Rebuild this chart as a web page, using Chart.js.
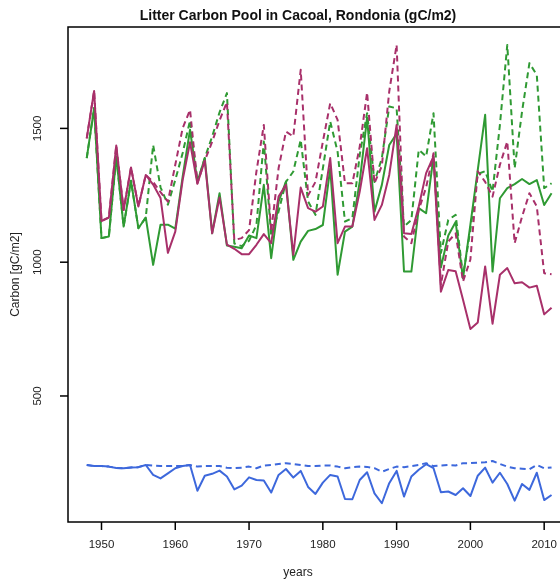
<!DOCTYPE html>
<html>
<head>
<meta charset="utf-8">
<script src="https://cdn.jsdelivr.net/npm/chart.js@4.4.1/dist/chart.umd.min.js"></script>
<style>
  html, body { margin: 0; padding: 0; background: #fff; overflow: hidden; }
  #wrap { width: 560px; height: 580px; overflow: hidden; }
</style>
</head>
<body>
<div id="wrap"><canvas id="litter" width="590" height="580"></canvas></div>
<script>
// years of the simulation
const years = [
  1948, 1949, 1950, 1951, 1952, 1953, 1954, 1955, 1956, 1957, 1958, 1959, 1960, 1961, 1962, 1963,
  1964, 1965, 1966, 1967, 1968, 1969, 1970, 1971, 1972, 1973, 1974, 1975, 1976, 1977, 1978, 1979,
  1980, 1981, 1982, 1983, 1984, 1985, 1986, 1987, 1988, 1989, 1990, 1991, 1992, 1993, 1994, 1995,
  1996, 1997, 1998, 1999, 2000, 2001, 2002, 2003, 2004, 2005, 2006, 2007, 2008, 2009, 2010, 2011
];

// green runs (solid / dashed)
const greenSolid = [
  1389, 1576, 1090, 1096, 1395, 1133, 1304, 1127, 1167, 990, 1140, 1140, 1125, 1320, 1495, 1300,
  1389, 1108, 1258, 1062, 1058, 1052, 1100, 1090, 1289, 1015, 1226, 1301, 1009, 1077, 1117, 1124,
  1139, 1351, 953, 1114, 1133, 1301, 1540, 1189, 1289, 1438, 1480, 965, 965, 1202, 1183, 1395,
  980, 1100, 1150, 940, 1140, 1345, 1551, 965, 1239, 1277, 1292, 1311, 1292, 1307, 1214, 1258
];
const greenDashed = [
  1389, 1576, 1090, 1096, 1395, 1133, 1304, 1127, 1167, 1438, 1280, 1215, 1307, 1408, 1530, 1300,
  1389, 1470, 1560, 1632, 1070, 1060, 1080, 1139, 1451, 1100, 1189, 1300, 1339, 1457, 1227, 1177,
  1350, 1526, 1413, 1152, 1165, 1401, 1557, 1300, 1389, 1582, 1575, 1133, 1158, 1420, 1395, 1557,
  1034, 1158, 1177, 950, 1120, 1330, 1340, 1264, 1513, 1812, 1351, 1563, 1744, 1700, 1277, 1295
];

// purple runs (solid / dashed)
const purpleSolid = [
  1463, 1640, 1154, 1167, 1436, 1195, 1354, 1208, 1326, 1290, 1240, 1035, 1114, 1307, 1448, 1293,
  1379, 1108, 1242, 1066, 1050, 1030, 1030, 1065, 1105, 1071, 1245, 1289, 1027, 1279, 1202, 1189,
  1208, 1389, 1071, 1133, 1133, 1264, 1426, 1158, 1214, 1326, 1513, 1108, 1105, 1208, 1333, 1395,
  890, 971, 966, 860, 750, 775, 984, 770, 953, 978, 921, 925, 905, 912, 805, 830
];
const purpleDashed = [
  1463, 1640, 1154, 1167, 1436, 1195, 1354, 1208, 1326, 1300, 1262, 1226, 1364, 1501, 1569, 1295,
  1380, 1450, 1530, 1598, 1083, 1090, 1120, 1339, 1513, 1114, 1351, 1488, 1470, 1719, 1250, 1300,
  1450, 1594, 1532, 1295, 1295, 1432, 1634, 1295, 1360, 1638, 1812, 1096, 1071, 1195, 1280, 1407,
  915, 1077, 1108, 928, 1010, 1340, 1300, 1245, 1364, 1451, 1071, 1170, 1258, 1208, 959, 955
];

// blue runs (solid / dashed)
const blueSolid = [
  242, 238, 238, 236, 231, 230, 233, 234, 242, 205, 192, 211, 230, 238, 242, 146,
  202, 209, 221, 199, 151, 165, 196, 186, 184, 139, 205, 227, 195, 220, 160, 134,
  176, 205, 199, 115, 114, 186, 215, 136, 99, 174, 220, 124, 199, 224, 245, 230,
  140, 143, 130, 155, 126, 202, 232, 176, 213, 171, 109, 171, 149, 213, 111, 130
];
const blueDashed = [
  242, 238, 238, 236, 231, 230, 233, 234, 242, 240, 238, 238, 238, 238, 242, 236,
  238, 238, 238, 232, 230, 232, 236, 230, 240, 242, 246, 249, 246, 242, 238, 238,
  240, 240, 236, 230, 234, 236, 235, 230, 217, 227, 236, 234, 238, 242, 249, 238,
  240, 242, 240, 249, 249, 251, 252, 257, 246, 236, 230, 228, 226, 242, 230, 233
];

// axis ticks
const xTicks = [1950, 1960, 1970, 1980, 1990, 2000, 2010];
const yTicks = [500, 1000, 1500];

const GREEN = '#2f9a33';
const PURPLE = '#a8306a';
const BLUE = '#3d68dc';
const FONT = '"Liberation Sans", Arial, Helvetica, sans-serif';

function series(vals) {
  return vals.map((v, i) => ({ x: years[i], y: v }));
}

function line(vals, color, dashed) {
  return {
    data: series(vals),
    borderColor: color,
    borderWidth: 2,
    borderDash: dashed ? [6, 4] : [],
    borderJoinStyle: 'round',
    pointRadius: 0,
    tension: 0,
    fill: false
  };
}

// box, tick marks and labels drawn in the old R style
const rAxes = {
  id: 'rAxes',
  afterDraw(chart) {
    const { ctx, chartArea: a, scales: { x, y } } = chart;
    ctx.save();
    ctx.strokeStyle = '#000';
    ctx.lineWidth = 1.5;
    ctx.strokeRect(a.left, a.top, a.right - a.left, a.bottom - a.top);

    ctx.fillStyle = '#222';
    ctx.font = '11.5px ' + FONT;
    ctx.textAlign = 'center';
    ctx.textBaseline = 'middle';

    xTicks.forEach(v => {
      const px = x.getPixelForValue(v);
      ctx.beginPath();
      ctx.moveTo(px, a.bottom);
      ctx.lineTo(px, a.bottom + 8);
      ctx.stroke();
      ctx.fillText(String(v), px, a.bottom + 23);
    });

    yTicks.forEach(v => {
      const py = y.getPixelForValue(v);
      ctx.beginPath();
      ctx.moveTo(a.left - 8, py);
      ctx.lineTo(a.left, py);
      ctx.stroke();
      ctx.save();
      ctx.translate(a.left - 30, py);
      ctx.rotate(-Math.PI / 2);
      ctx.fillText(String(v), 0, 0);
      ctx.restore();
    });

    // titles
    ctx.fillStyle = '#111';
    ctx.font = 'bold 14px ' + FONT;
    ctx.fillText('Litter Carbon Pool in Cacoal, Rondonia (gC/m2)', 298, 16);

    ctx.fillStyle = '#222';
    ctx.font = '12px ' + FONT;
    ctx.fillText('years', 298, 573);

    ctx.save();
    ctx.translate(16, (a.top + a.bottom) / 2);
    ctx.rotate(-Math.PI / 2);
    ctx.fillText('Carbon [gC/m2]', 0, 0);
    ctx.restore();

    ctx.restore();
  }
};

new Chart(document.getElementById('litter'), {
  type: 'line',
  data: {
    datasets: [
      line(purpleDashed, PURPLE, true),
      line(purpleSolid, PURPLE, false),
      line(greenDashed, GREEN, true),
      line(greenSolid, GREEN, false),
      line(blueDashed, BLUE, true),
      line(blueSolid, BLUE, false)
    ]
  },
  options: {
    responsive: false,
    animation: false,
    devicePixelRatio: 1,
    layout: { padding: { left: 68, top: 27, right: 20, bottom: 58 } },
    plugins: {
      legend: { display: false },
      tooltip: { enabled: false }
    },
    scales: {
      x: { type: 'linear', min: 1945.46, max: 2013.5, display: false },
      y: { type: 'linear', min: 29, max: 1879, display: false }
    }
  },
  plugins: [rAxes]
});
</script>
</body>
</html>
